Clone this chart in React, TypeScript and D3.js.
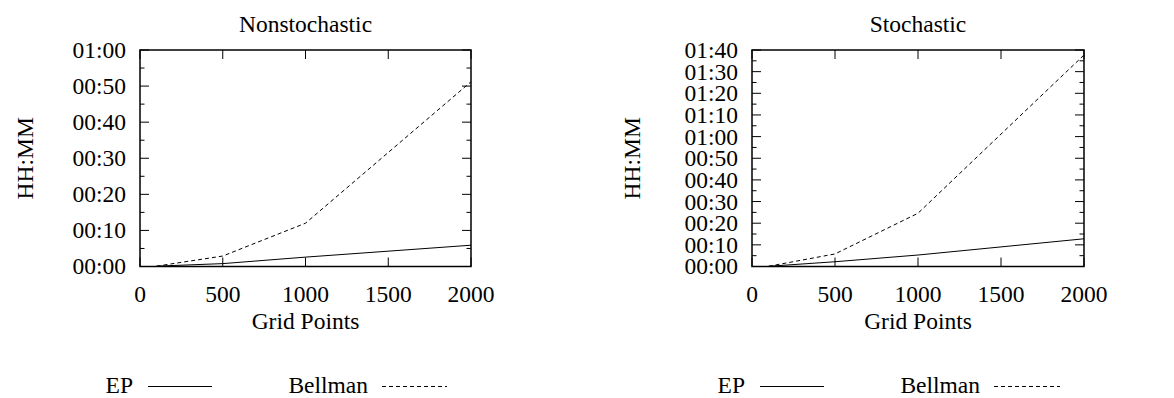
import React from "react";
import * as d3 from "d3";

// grid points sampled in the runs
const gridPoints = [100, 500, 1000, 2000];

// run time in minutes
const nonstochEP = [0.1, 0.8, 2.6, 5.9];
const nonstochBellman = [0.1, 2.9, 12.0, 51.2];
const stochEP = [0.1, 2.2, 5.3, 12.8];
const stochBellman = [0.1, 5.8, 24.6, 97.7];

const xTicks = [0, 500, 1000, 1500, 2000];
const nonstochYTicks = [0, 10, 20, 30, 40, 50, 60];
const stochYTicks = [0, 10, 20, 30, 40, 50, 60, 70, 80, 90, 100];

const FONT = "'Liberation Serif', Tinos, 'Times New Roman', serif";
const TOP = 50;
const BOTTOM = 266.5;

const fmtHM = (m: number) => {
  const h = Math.floor(m / 60);
  const mm = Math.round(m - h * 60);
  return `${String(h).padStart(2, "0")}:${String(mm).padStart(2, "0")}`;
};

const panels = [
  {
    title: "Nonstochastic",
    ep: nonstochEP,
    bellman: nonstochBellman,
    yTicks: nonstochYTicks,
    yMax: 60,
    left: 140,
    right: 471,
    ylabelX: 33,
    legend: { epEnd: 133, epLine: [148, 212], bEnd: 368, bLine: [382, 447] }
  },
  {
    title: "Stochastic",
    ep: stochEP,
    bellman: stochBellman,
    yTicks: stochYTicks,
    yMax: 100,
    left: 752,
    right: 1084,
    ylabelX: 640,
    legend: { epEnd: 745, epLine: [760, 824], bEnd: 980, bLine: [994, 1060] }
  }
];

const Panel = ({ p }: { p: (typeof panels)[0] }) => {
  const x = d3.scaleLinear().domain([0, 2000]).range([p.left, p.right]);
  const y = d3.scaleLinear().domain([0, p.yMax]).range([BOTTOM, TOP]);
  const minor = d3.range(5, p.yMax, 10);
  const line = d3
    .line<number>()
    .x((_, i) => x(gridPoints[i]))
    .y((d) => y(d));
  const L = p.legend;

  return (
    <g>
      {/* x ticks, bottom and top */}
      {xTicks.map((t) => (
        <g key={"x" + t}>
          <line x1={x(t)} x2={x(t)} y1={BOTTOM} y2={BOTTOM - 9} stroke="#000" />
          <line x1={x(t)} x2={x(t)} y1={TOP} y2={TOP + 9} stroke="#000" />
          <text x={x(t)} y={302} textAnchor="middle">
            {t}
          </text>
        </g>
      ))}
      {/* y ticks, left and right */}
      {p.yTicks.map((t) => (
        <g key={"y" + t}>
          <line x1={p.left} x2={p.left + 9} y1={y(t)} y2={y(t)} stroke="#000" />
          <line x1={p.right} x2={p.right - 9} y1={y(t)} y2={y(t)} stroke="#000" />
          <text x={p.left - 14} y={y(t)} dy="0.34em" textAnchor="end">
            {fmtHM(t)}
          </text>
        </g>
      ))}
      {minor.map((t) => (
        <g key={"m" + t}>
          <line x1={p.left} x2={p.left + 4.5} y1={y(t)} y2={y(t)} stroke="#000" />
          <line x1={p.right} x2={p.right - 4.5} y1={y(t)} y2={y(t)} stroke="#000" />
        </g>
      ))}

      <path d={line(p.ep) ?? ""} fill="none" stroke="#000" strokeWidth={1} />
      <path d={line(p.bellman) ?? ""} fill="none" stroke="#000" strokeWidth={1} strokeDasharray="4,3" />

      <rect
        x={p.left}
        y={TOP}
        width={p.right - p.left}
        height={BOTTOM - TOP}
        fill="none"
        stroke="#000"
        strokeWidth={1.5}
      />

      <text x={(p.left + p.right) / 2} y={32} textAnchor="middle">
        {p.title}
      </text>
      <text x={(p.left + p.right) / 2} y={329} textAnchor="middle">
        Grid Points
      </text>
      <text
        transform={`translate(${p.ylabelX},${(TOP + BOTTOM) / 2}) rotate(-90)`}
        textAnchor="middle"
      >
        HH:MM
      </text>

      {/* legend */}
      <text x={L.epEnd} y={393} textAnchor="end">
        EP
      </text>
      <line x1={L.epLine[0]} x2={L.epLine[1]} y1={386.5} y2={386.5} stroke="#000" />
      <text x={L.bEnd} y={393} textAnchor="end">
        Bellman
      </text>
      <line
        x1={L.bLine[0]}
        x2={L.bLine[1]}
        y1={386.5}
        y2={386.5}
        stroke="#000"
        strokeDasharray="4,3"
      />
    </g>
  );
};

const App = () => (
  <svg
    width={1174}
    height={398}
    fontFamily={FONT}
    fontSize={23.5}
    style={{ position: "absolute", left: 0, top: 0, background: "#fff", fontFamily: FONT }}
  >
    {panels.map((p) => (
      <Panel key={p.title} p={p} />
    ))}
  </svg>
);

export default App;
